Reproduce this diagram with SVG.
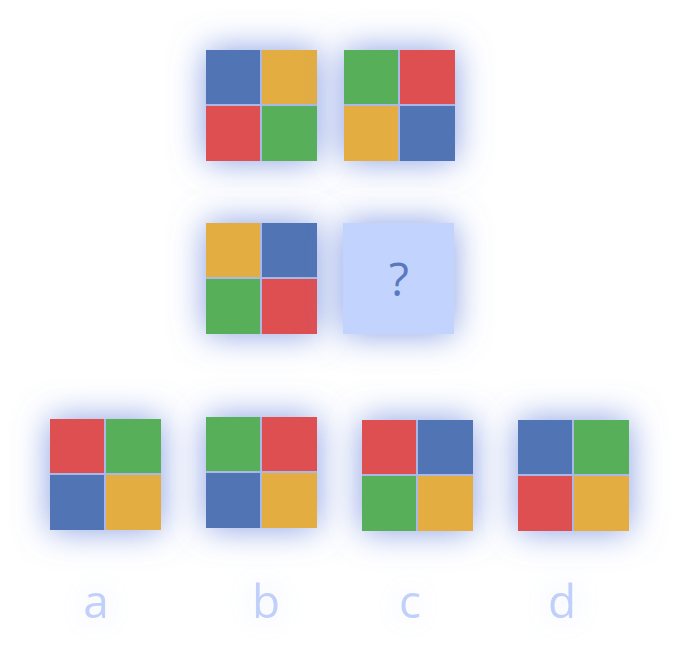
<svg xmlns="http://www.w3.org/2000/svg" width="679" height="669" viewBox="0 0 679 669">
<defs>
<filter id="glow" x="-80%" y="-80%" width="260%" height="260%">
<feDropShadow dx="0" dy="0" stdDeviation="17" flood-color="#6784dc" flood-opacity="0.8"/>
</filter>
<filter id="tglow" x="-150%" y="-150%" width="400%" height="400%">
<feDropShadow dx="0" dy="0" stdDeviation="14" flood-color="#c0ccf0" flood-opacity="0.45"/>
</filter>
</defs>
<style>
.bk{fill:#a9b8e6}
.B{fill:#5174b4}
.O{fill:#e3ad42}
.R{fill:#de4f52}
.G{fill:#58af5a}
.lbl{font-family:"Open Sans","DejaVu Sans",sans-serif;font-size:46px;fill:#c0d0fb;text-anchor:middle}
</style>
<rect width="679" height="669" fill="#ffffff"/>
<g id="q1" transform="translate(206,50)">
<rect class="bk" width="111" height="111" filter="url(#glow)"/>
<rect class="B" x="0" y="0" width="54" height="54"/><rect class="O" x="56" y="0" width="55" height="54"/>
<rect class="R" x="0" y="56" width="54" height="55"/><rect class="G" x="56" y="56" width="55" height="55"/>
</g>
<g id="q2" transform="translate(344,50)">
<rect class="bk" width="111" height="111" filter="url(#glow)"/>
<rect class="G" x="0" y="0" width="54" height="54"/><rect class="R" x="56" y="0" width="55" height="54"/>
<rect class="O" x="0" y="56" width="54" height="55"/><rect class="B" x="56" y="56" width="55" height="55"/>
</g>
<g id="q3" transform="translate(206,223)">
<rect class="bk" width="111" height="111" filter="url(#glow)"/>
<rect class="O" x="0" y="0" width="54" height="54"/><rect class="B" x="56" y="0" width="55" height="54"/>
<rect class="G" x="0" y="56" width="54" height="55"/><rect class="R" x="56" y="56" width="55" height="55"/>
</g>
<g id="q4" transform="translate(343,223)">
<rect width="111" height="111" fill="#c2d3fd" filter="url(#glow)"/>
<text x="56" y="73" font-family="'Open Sans','DejaVu Sans',sans-serif" font-size="46" fill="#5a78bc" text-anchor="middle">?</text>
</g>
<g id="optA" transform="translate(50,419)">
<rect class="bk" width="111" height="111" filter="url(#glow)"/>
<rect class="R" x="0" y="0" width="54" height="54"/><rect class="G" x="56" y="0" width="55" height="54"/>
<rect class="B" x="0" y="56" width="54" height="55"/><rect class="O" x="56" y="56" width="55" height="55"/>
</g>
<g id="optB" transform="translate(206,417)">
<rect class="bk" width="111" height="111" filter="url(#glow)"/>
<rect class="G" x="0" y="0" width="54" height="54"/><rect class="R" x="56" y="0" width="55" height="54"/>
<rect class="B" x="0" y="56" width="54" height="55"/><rect class="O" x="56" y="56" width="55" height="55"/>
</g>
<g id="optC" transform="translate(362,420)">
<rect class="bk" width="111" height="111" filter="url(#glow)"/>
<rect class="R" x="0" y="0" width="54" height="54"/><rect class="B" x="56" y="0" width="55" height="54"/>
<rect class="G" x="0" y="56" width="54" height="55"/><rect class="O" x="56" y="56" width="55" height="55"/>
</g>
<g id="optD" transform="translate(518,420)">
<rect class="bk" width="111" height="111" filter="url(#glow)"/>
<rect class="B" x="0" y="0" width="54" height="54"/><rect class="G" x="56" y="0" width="55" height="54"/>
<rect class="R" x="0" y="56" width="54" height="55"/><rect class="O" x="56" y="56" width="55" height="55"/>
</g>
<g id="labels" filter="url(#tglow)">
<text class="lbl" x="96" y="618">a</text>
<text class="lbl" x="266" y="618">b</text>
<text class="lbl" x="410" y="618">c</text>
<text class="lbl" x="562" y="618">d</text>
</g>
</svg>
